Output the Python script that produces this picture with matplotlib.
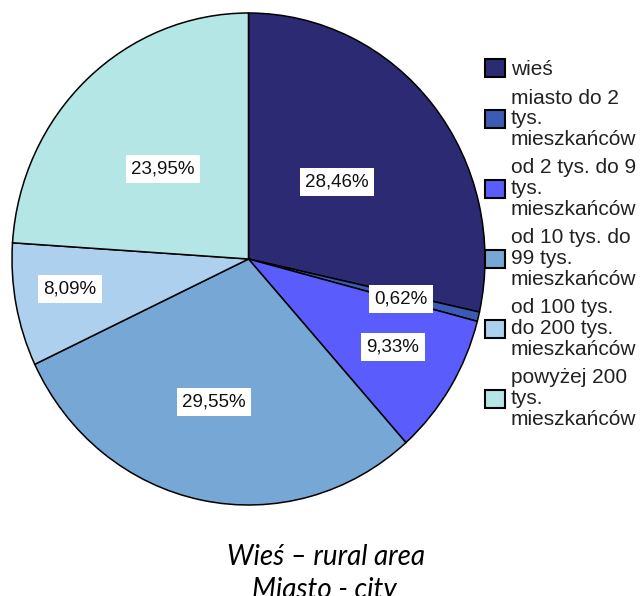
import matplotlib.pyplot as plt

# udział procentowy wg miejsca zamieszkania
categories = ['wieś',
              'miasto do 2\ntys.\nmieszkańców',
              'od 2 tys. do 9\ntys.\nmieszkańców',
              'od 10 tys. do\n99 tys.\nmieszkańców',
              'od 100 tys.\ndo 200 tys.\nmieszkańców',
              'powyżej 200\ntys.\nmieszkańców']
values = [28.46, 0.62, 9.33, 29.55, 8.09, 23.95]
colors = ['#2b2a73', '#3b5bb4', '#5b5cfc', '#77a7d4', '#acd0ee', '#b3e6e5']
# gdzie stoją etykiety (w jednostkach promienia)
label_xy = [(0.374, 0.313), (0.645, -0.163), (0.611, -0.358),
            (-0.146, -0.581), (-0.755, -0.122), (-0.362, 0.366)]

W, H = 644, 596
fig = plt.figure(figsize=(W / 100, H / 100), dpi=100)
ax = fig.add_axes([12 / W, (H - 505) / H, 473 / W, 492 / H])

wedges, _ = ax.pie(values, colors=colors, startangle=90, counterclock=False,
                   wedgeprops=dict(edgecolor='black', linewidth=1.1))
ax.set_aspect('auto')
ax.set_xlim(-1, 1)
ax.set_ylim(-1, 1)

for v, (x, y) in zip(values, label_xy):
    ax.text(x, y, f'{v:.2f}%'.replace('.', ','),
            ha='center', va='center', fontsize=13.5, family='Liberation Sans',
            color='#111111',
            bbox=dict(facecolor='white', edgecolor='none', pad=4))

leg = fig.legend(wedges, categories, loc='upper left',
                 bbox_to_anchor=(485 / W, 1 - 59 / H), frameon=False,
                 prop={'family': 'Liberation Sans', 'size': 15},
                 handlelength=0.95, handleheight=0.95, handletextpad=0.3,
                 labelspacing=0.45, borderaxespad=0, borderpad=0)
for t in leg.get_texts():
    t.set_linespacing(1.12)
    t.set_color('#222222')
for p in leg.get_patches():
    p.set_linewidth(1.5)

fig.text(326 / W, 1 - 557 / H, 'Wieś – rural area', ha='center', va='center',
         fontsize=20, style='italic', family='Lato')
fig.text(324 / W, 1 - 590 / H, 'Miasto - city', ha='center', va='center',
         fontsize=20, style='italic', family='Lato')

fig.savefig('out.png', dpi=100)
